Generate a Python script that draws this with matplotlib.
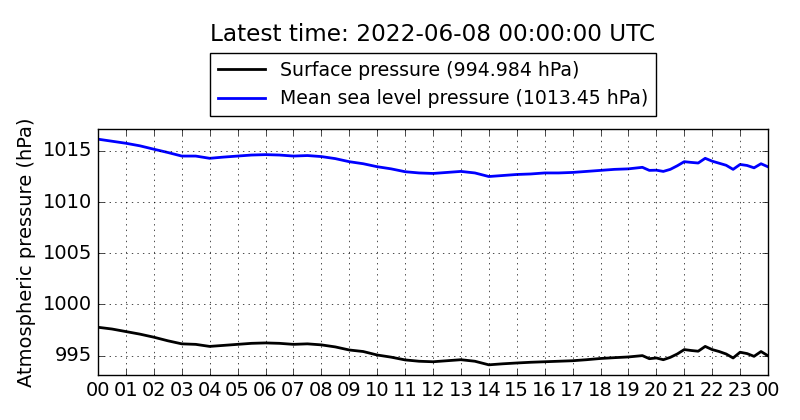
import numpy as np
import matplotlib
matplotlib.use("Agg")
import matplotlib.pyplot as plt
import matplotlib.dates as mdates

# hours since 2022-06-07 00:00 UTC
hours = [0, 0.5, 1, 1.5, 2, 2.5, 3, 3.5, 4, 4.5, 5, 5.5, 6, 6.5, 7, 7.5, 8, 8.5,
         9, 9.5, 10, 10.5, 11, 11.5, 12, 12.5, 13, 13.5, 14, 14.5, 15, 15.5, 16,
         16.5, 17, 17.5, 18, 18.5, 19, 19.5, 19.75, 20, 20.25, 20.5, 20.75, 21,
         21.25, 21.5, 21.75, 22, 22.25, 22.5, 22.75, 23, 23.25, 23.5, 23.75, 24]

surface = [997.77, 997.6, 997.35, 997.1, 996.8, 996.45, 996.15, 996.1, 995.9,
           996.0, 996.1, 996.2, 996.24, 996.2, 996.1, 996.15, 996.05, 995.85,
           995.55, 995.4, 995.06, 994.85, 994.58, 994.45, 994.4, 994.5, 994.6,
           994.45, 994.1, 994.2, 994.28, 994.35, 994.4, 994.45, 994.5, 994.6,
           994.72, 994.8, 994.87, 995.0, 994.7, 994.77, 994.6, 994.83, 995.16,
           995.59, 995.5, 995.43, 995.9, 995.59, 995.4, 995.16, 994.77, 995.33,
           995.2, 994.93, 995.4, 994.984]

msl = [1016.15, 1015.95, 1015.75, 1015.5, 1015.17, 1014.85, 1014.5, 1014.5,
       1014.28, 1014.4, 1014.5, 1014.6, 1014.64, 1014.6, 1014.5, 1014.55,
       1014.45, 1014.25, 1013.95, 1013.75, 1013.46, 1013.25, 1012.97, 1012.85,
       1012.8, 1012.9, 1013.0, 1012.85, 1012.5, 1012.6, 1012.7, 1012.75,
       1012.85, 1012.85, 1012.9, 1013.0, 1013.1, 1013.2, 1013.25, 1013.4,
       1013.1, 1013.12, 1013.0, 1013.2, 1013.55, 1013.95, 1013.88, 1013.82,
       1014.28, 1014.0, 1013.8, 1013.6, 1013.2, 1013.68, 1013.58, 1013.35,
       1013.75, 1013.45]

plt.style.use("classic")
start = np.datetime64("2022-06-07T00:00")
t = start + (np.array(hours) * 60).astype("timedelta64[m]")

fig = plt.figure(figsize=(8, 4.2), dpi=100, facecolor="white")
ax = fig.add_axes([0.1225, 0.107, 0.8375, 0.586])

ax.plot(t, surface, color="k", lw=2,
        label="Surface pressure (%g hPa)" % surface[-1])
ax.plot(t, msl, color="b", lw=2,
        label="Mean sea level pressure (%g hPa)" % msl[-1])

ax.set_xlim(t[0], t[-1])
ax.set_ylim(min(surface) - 1, max(msl) + 1)
ax.yaxis.set_major_locator(plt.MultipleLocator(5))
ax.ticklabel_format(axis="y", useOffset=False)
ax.xaxis.set_major_locator(mdates.HourLocator())
ax.xaxis.set_major_formatter(mdates.DateFormatter("%H"))
ax.tick_params(labelsize=14)
ax.grid(True)
ax.set_ylabel("Atmospheric pressure (hPa)", fontsize=14)

ax.legend(loc="lower center", bbox_to_anchor=(0.5, 1.053), fontsize=13.6,
          handlelength=2.5, borderaxespad=0, numpoints=1)
fig.text(0.541, 0.917, "Latest time: 2022-06-08 00:00:00 UTC", fontsize=16.7,
         ha="center", va="center")

fig.savefig("out.png", dpi=100, facecolor="white")
